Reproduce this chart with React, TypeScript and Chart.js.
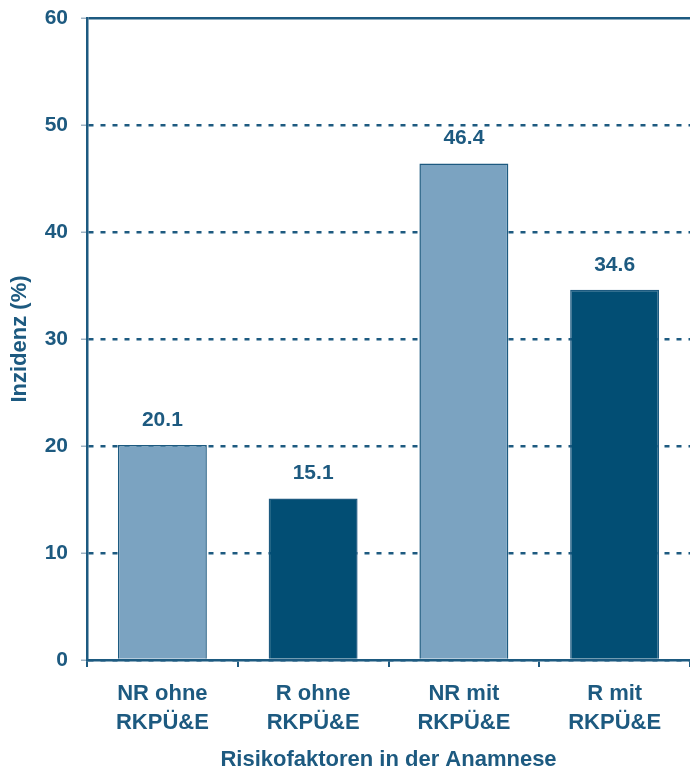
import React, { useEffect, useRef } from "react";
import { Chart, registerables } from "chart.js";

Chart.register(...registerables);

const categories: string[][] = [
  ["NR ohne", "RKPÜ&E"],
  ["R ohne", "RKPÜ&E"],
  ["NR mit", "RKPÜ&E"],
  ["R mit", "RKPÜ&E"],
];
const values: number[] = [20.1, 15.1, 46.4, 34.6];
const valueLabels: string[] = ["20.1", "15.1", "46.4", "34.6"];
const barColors: string[] = ["#7ba3c1", "#024e74", "#7ba3c1", "#024e74"];
const yTitle = "Inzidenz (%)";
const xTitle = "Risikofaktoren in der Anamnese";

const TEXT = "#1d5a80";
const LINE = "#1d5a80";
const FONT = "'Liberation Sans', Arial, sans-serif";

const valueLabelPlugin = {
  id: "valueLabels",
  afterDatasetsDraw(chart: any) {
    const ctx = chart.ctx;
    const meta = chart.getDatasetMeta(0);
    ctx.save();
    ctx.fillStyle = TEXT;
    ctx.font = `bold 21px ${FONT}`;
    ctx.textAlign = "center";
    ctx.textBaseline = "middle";
    meta.data.forEach((bar: any, i: number) => {
      ctx.fillText(valueLabels[i], bar.x, bar.y - 25);
    });
    ctx.restore();
  },
};

export default function App() {
  const ref = useRef<HTMLCanvasElement | null>(null);

  useEffect(() => {
    document.body.style.margin = "0";
    const chart = new Chart(ref.current as HTMLCanvasElement, {
      type: "bar",
      data: {
        labels: categories,
        datasets: [
          {
            data: values,
            backgroundColor: barColors,
            borderColor: "#1d5a80",
            borderWidth: 1.5,
            barPercentage: 0.59,
            categoryPercentage: 1,
          },
        ],
      },
      options: {
        animation: false,
        responsive: true,
        maintainAspectRatio: false,
        layout: { padding: { top: 18, right: 0, bottom: 0, left: 0 } },
        plugins: {
          legend: { display: false },
          tooltip: { enabled: false },
        },
        scales: {
          x: {
            afterFit: (s: any) => {
              s.height = 116;
            },
            grid: {
              display: true,
              drawOnChartArea: false,
              drawTicks: true,
              tickLength: 7,
              color: LINE,
              lineWidth: 2,
            },
            border: { display: true, color: LINE, width: 2.5 },
            ticks: {
              color: TEXT,
              font: { family: FONT, size: 22, weight: "bold", lineHeight: 1.32 },
              padding: 12,
              maxRotation: 0,
            },
            title: {
              display: true,
              text: xTitle,
              color: TEXT,
              font: { family: FONT, size: 22, weight: "bold", lineHeight: 1.2 },
              padding: { top: 0, bottom: 3 },
            },
          },
          y: {
            min: 0,
            max: 60,
            afterFit: (s: any) => {
              s.width = 87;
              s.paddingTop = 0;
              s.paddingBottom = 0;
            },
            ticks: {
              stepSize: 10,
              color: TEXT,
              font: { family: FONT, size: 21, weight: "bold" },
              padding: 13,
            },
            grid: {
              color: LINE,
              lineWidth: 2.5,
              tickLength: 6,
              tickColor: "#9fb3c3",
              tickWidth: 1.5,
              tickBorderDash: [1, 0],
            },
            border: {
              display: true,
              color: LINE,
              width: 2.5,
              dash: (c: any) => (c.tick && c.tick.value === 60 ? [] : [5, 7]),
            },
            title: {
              display: true,
              text: yTitle,
              color: TEXT,
              font: { family: FONT, size: 22, weight: "bold", lineHeight: 1.2 },
              padding: { top: 7, bottom: 0 },
            },
          },
        },
      },
      plugins: [valueLabelPlugin],
    });
    return () => chart.destroy();
  }, []);

  return (
    <div style={{ position: "absolute", left: 0, top: 0, width: 690, height: 776 }}>
      <canvas ref={ref} />
    </div>
  );
}
